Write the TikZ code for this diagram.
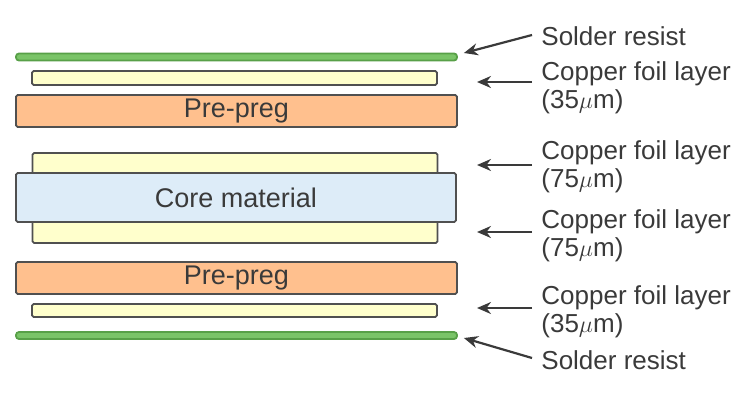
\documentclass[tikz,border=0pt]{standalone}
\usepackage{fontspec}
\setmainfont{Liberation Sans}
\usepackage{xcolor}
\usepackage{tikz}
\usetikzlibrary{arrows.meta,calc}

\definecolor{resistgreen}{RGB}{122,196,104}
\definecolor{resistedge}{RGB}{88,160,72}
\definecolor{foilyellow}{RGB}{255,255,204}
\definecolor{pregorange}{RGB}{255,192,142}
\definecolor{coreblue}{RGB}{221,236,248}
\definecolor{edgegray}{RGB}{80,80,80}
\definecolor{inkgray}{RGB}{58,58,58}

\begin{document}
\begin{tikzpicture}[x=0.5pt,y=-0.5pt,
    layer/.style={draw=edgegray,line width=0.9pt,rounded corners=0.8pt,inner sep=0pt,
      text=inkgray,font=\fontsize{13.5}{15}\selectfont},
    resist/.style={layer,draw=resistedge,fill=resistgreen,minimum width=220.5pt,minimum height=3.5pt,rounded corners=1.5pt},
    foil/.style={layer,fill=foilyellow,minimum width=202.5pt},
    preg/.style={layer,fill=pregorange,minimum width=220.5pt,minimum height=16pt},
    lbl/.style={anchor=west,inner sep=0pt,align=left,text=inkgray,font=\fontsize{13}{14}\selectfont},
    pointer/.style={-{Stealth[length=7pt,width=6pt]},line width=1.1pt,draw=inkgray}]
  \useasboundingbox (0,0) rectangle (738,407);

  % board stack, top to bottom
  \node[resist] (sr1) at (236.5,57) {};
  \node[foil,minimum height=7pt] (cu1) at (234.5,78) {};
  \node[preg] (pp1) at (236.5,111) {Pre-preg};
  \node[foil,minimum height=12pt] (cu2) at (235,165) {};
  \node[foil,minimum height=12pt] (cu3) at (235,231) {};
  \node[layer,fill=coreblue,minimum width=220pt,minimum height=24.5pt] (core) at (236,197.5) {Core material};
  \node[preg] (pp2) at (236.5,278) {Pre-preg};
  \node[foil,minimum height=6.5pt] (cu4) at (234.5,310.5) {};
  \node[resist] (sr2) at (236.5,335.5) {};

  % labels on the right
  \node[lbl] (srlbl1) at (541,36) {Solder resist};
  \node[lbl] (cflbl1) at (541,88) {Copper foil layer\\(35$\mu$m)};
  \node[lbl] (cflbl2) at (541,166.5) {Copper foil layer\\(75$\mu$m)};
  \node[lbl] (cflbl3) at (541,235.5) {Copper foil layer\\(75$\mu$m)};
  \node[lbl] (cflbl4) at (541,312) {Copper foil layer\\(35$\mu$m)};
  \node[lbl] (srlbl2) at (541,360) {Solder resist};

  % arrows
  \draw[pointer] ($(srlbl1.west)+(-9,-1)$) -- ($(sr1.east)+(6,-4)$);
  \draw[pointer] ($(cflbl1.west)+(-9,-6)$) -- ++(-55,0);
  \draw[pointer] ($(cflbl2.west)+(-9,-1.5)$) -- ++(-55,0);
  \draw[pointer] ($(cflbl3.west)+(-9,-3.5)$) -- ++(-55,0);
  \draw[pointer] ($(cflbl4.west)+(-9,-4)$) -- ++(-55,0);
  \draw[pointer] ($(srlbl2.west)+(-9,-2)$) -- ($(sr2.east)+(6,2.5)$);
\end{tikzpicture}
\end{document}
